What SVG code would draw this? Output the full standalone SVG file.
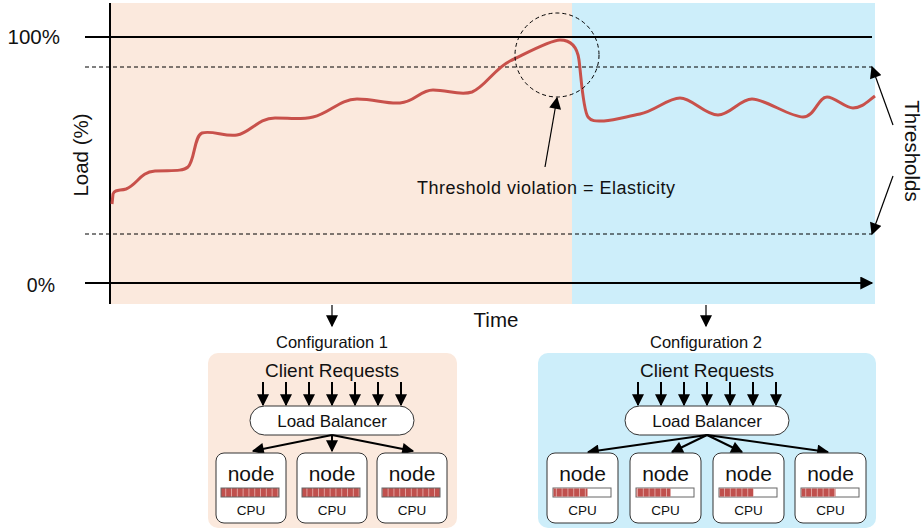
<svg xmlns="http://www.w3.org/2000/svg" width="924" height="531" viewBox="0 0 924 531">
<style>
text{font-family:"Liberation Sans",Arial,sans-serif;fill:#111}
.ax{stroke:#000;stroke-width:2;fill:none}
.dash{stroke:#000;stroke-width:1;stroke-dasharray:4 3;fill:none}
.arr{stroke:#000;stroke-width:2;fill:none;marker-end:url(#ah)}
.thin{stroke:#000;stroke-width:1.2;fill:none;marker-end:url(#ah)}
.node{fill:#fff;stroke:#333;stroke-width:1}
.lb{fill:#fff;stroke:#333;stroke-width:1}
.nt{font-size:21px;text-anchor:middle}
.ct{font-size:13.5px;text-anchor:middle}
.bar{stroke:#666;stroke-width:1}
</style>
<defs>
<marker id="ah" viewBox="0 0 10 10" refX="9" refY="5" markerWidth="13" markerHeight="12" markerUnits="userSpaceOnUse" orient="auto"><path d="M0,0 L10,5 L0,10 z" fill="#000"/></marker>
<marker id="ahb" viewBox="0 0 10 10" refX="9" refY="5" markerWidth="16" markerHeight="13" markerUnits="userSpaceOnUse" orient="auto"><path d="M0,0 L10,5 L0,10 z" fill="#000"/></marker>
<pattern id="seg" patternUnits="userSpaceOnUse" width="5.8" height="20"><rect width="5.8" height="20" fill="#c0504d"/><rect x="5" width="0.8" height="20" fill="#eab3b0"/></pattern>
</defs>

<g id="chart">
<rect x="110" y="3" width="462" height="301" fill="#fbe9dd"/>
<rect x="572" y="3" width="303" height="301" fill="#cdeefa"/>
<line class="ax" x1="85" y1="37" x2="872" y2="37"/>
<line class="dash" x1="85" y1="67" x2="872" y2="67"/>
<line class="dash" x1="85" y1="234" x2="872" y2="234"/>
<line x1="85" y1="283" x2="872" y2="283" stroke="#000" stroke-width="2" marker-end="url(#ahb)"/>
<line class="ax" x1="110" y1="3" x2="110" y2="304"/>
<path d="M112,204 L113,194 C115,189 120,191 126,189 C138,184 140,172 155,171 C170,170 182,172 188,167 C195,160 194,136 202,133 C212,130 225,137 237,135 C250,133 258,118 275,118 C290,118 300,120 313,117 C330,113 340,99 357,99 C375,99 385,104 400,103 C415,102 420,90 433,90 C448,90 460,96 472,92 C485,87 495,68 510,61 C525,54 550,40 560,40 C570,40 577,45 579,60 C581,75 583,110 588,117 C592,122 597,121 604,121 C615,120 625,117 640,114 C655,111 668,98 680,98 C692,98 705,115 718,115 C730,115 740,99 752,99 C765,99 790,117 803,117 C815,117 818,97 827,97 C835,97 845,108 853,108 C862,108 868,101 875,96" fill="none" stroke="#c8514b" stroke-width="3" stroke-linejoin="round"/>
<circle cx="557" cy="55" r="42" class="dash"/>
<text x="60" y="44" font-size="20.5" text-anchor="end">100%</text>
<text x="55" y="292" font-size="19.5" text-anchor="end">0%</text>
<text transform="translate(88,155) rotate(-90)" font-size="20.5" text-anchor="middle">Load (%)</text>
<text x="496" y="327" font-size="20.5" text-anchor="middle">Time</text>
<text x="417" y="194" font-size="18" letter-spacing="0.5">Threshold violation = Elasticity</text>
<text transform="translate(905,151) rotate(90)" font-size="20.5" text-anchor="middle">Thresholds</text>
</g>

<g id="connectors">
<line class="thin" x1="545" y1="167" x2="557" y2="98"/>
<line class="thin" x1="893" y1="125" x2="872" y2="67"/>
<line class="thin" x1="893" y1="176" x2="872" y2="234"/>
<line class="thin" x1="332" y1="305" x2="332" y2="326"/>
<line class="thin" x1="706" y1="305" x2="706" y2="326"/>
</g>

<g id="config1">
<rect x="208" y="353" width="249" height="175" rx="10" fill="#fbe9dd"/>
<text x="332" y="348" font-size="16.5" text-anchor="middle">Configuration 1</text>
<text x="332" y="377" font-size="19" text-anchor="middle">Client Requests</text>
<g class="reqs">
<line class="arr" x1="263" y1="382" x2="263" y2="405"/>
<line class="arr" x1="286" y1="382" x2="286" y2="405"/>
<line class="arr" x1="309" y1="382" x2="309" y2="405"/>
<line class="arr" x1="332" y1="382" x2="332" y2="405"/>
<line class="arr" x1="355" y1="382" x2="355" y2="405"/>
<line class="arr" x1="378" y1="382" x2="378" y2="405"/>
<line class="arr" x1="401" y1="382" x2="401" y2="405"/>
</g>
<g id="lb1"><rect class="lb" x="250" y="406" width="164" height="29" rx="14.5"/><text x="332" y="427" font-size="17" text-anchor="middle">Load Balancer</text></g>
<line class="arr" x1="332" y1="435" x2="253" y2="451"/>
<line class="arr" x1="332" y1="435" x2="332" y2="451"/>
<line class="arr" x1="332" y1="435" x2="413" y2="451"/>
<g id="c1n1"><rect class="node" x="216" y="453" width="70" height="70" rx="8"/><text class="nt" x="251" y="481">node</text><rect class="bar" x="221" y="488" width="58" height="9" fill="url(#seg)"/><text class="ct" x="251" y="515">CPU</text></g>
<g id="c1n2"><rect class="node" x="297" y="453" width="70" height="70" rx="8"/><text class="nt" x="332" y="481">node</text><rect class="bar" x="302" y="488" width="58" height="9" fill="url(#seg)"/><text class="ct" x="332" y="515">CPU</text></g>
<g id="c1n3"><rect class="node" x="377" y="453" width="70" height="70" rx="8"/><text class="nt" x="412" y="481">node</text><rect class="bar" x="382" y="488" width="58" height="9" fill="url(#seg)"/><text class="ct" x="412" y="515">CPU</text></g>
</g>

<g id="config2">
<rect x="538" y="353" width="338" height="175" rx="10" fill="#cdeefa"/>
<text x="706" y="348" font-size="16.5" text-anchor="middle">Configuration 2</text>
<text x="707" y="377" font-size="19" text-anchor="middle">Client Requests</text>
<g class="reqs">
<line class="arr" x1="638" y1="382" x2="638" y2="405"/>
<line class="arr" x1="661" y1="382" x2="661" y2="405"/>
<line class="arr" x1="684" y1="382" x2="684" y2="405"/>
<line class="arr" x1="707" y1="382" x2="707" y2="405"/>
<line class="arr" x1="730" y1="382" x2="730" y2="405"/>
<line class="arr" x1="753" y1="382" x2="753" y2="405"/>
<line class="arr" x1="776" y1="382" x2="776" y2="405"/>
</g>
<g id="lb2"><rect class="lb" x="625" y="406" width="164" height="29" rx="14.5"/><text x="707" y="427" font-size="17" text-anchor="middle">Load Balancer</text></g>
<line class="arr" x1="707" y1="435" x2="588" y2="452"/>
<line class="arr" x1="707" y1="435" x2="672" y2="452"/>
<line class="arr" x1="707" y1="435" x2="742" y2="452"/>
<line class="arr" x1="707" y1="435" x2="828" y2="452"/>
<g id="c2n1"><rect class="node" x="547" y="453" width="71" height="70" rx="8"/><text class="nt" x="582.5" y="481">node</text><rect class="bar" x="553" y="488" width="58" height="9" fill="#fff"/><rect x="553.5" y="488.5" width="34" height="8" fill="url(#seg)"/><text class="ct" x="582.5" y="515">CPU</text></g>
<g id="c2n2"><rect class="node" x="630" y="453" width="71" height="70" rx="8"/><text class="nt" x="665.5" y="481">node</text><rect class="bar" x="636" y="488" width="58" height="9" fill="#fff"/><rect x="636.5" y="488.5" width="34" height="8" fill="url(#seg)"/><text class="ct" x="665.5" y="515">CPU</text></g>
<g id="c2n3"><rect class="node" x="713" y="453" width="71" height="70" rx="8"/><text class="nt" x="748.5" y="481">node</text><rect class="bar" x="719" y="488" width="58" height="9" fill="#fff"/><rect x="719.5" y="488.5" width="34" height="8" fill="url(#seg)"/><text class="ct" x="748.5" y="515">CPU</text></g>
<g id="c2n4"><rect class="node" x="795" y="453" width="71" height="70" rx="8"/><text class="nt" x="830.5" y="481">node</text><rect class="bar" x="801" y="488" width="58" height="9" fill="#fff"/><rect x="801.5" y="488.5" width="34" height="8" fill="url(#seg)"/><text class="ct" x="830.5" y="515">CPU</text></g>
</g>
</svg>
